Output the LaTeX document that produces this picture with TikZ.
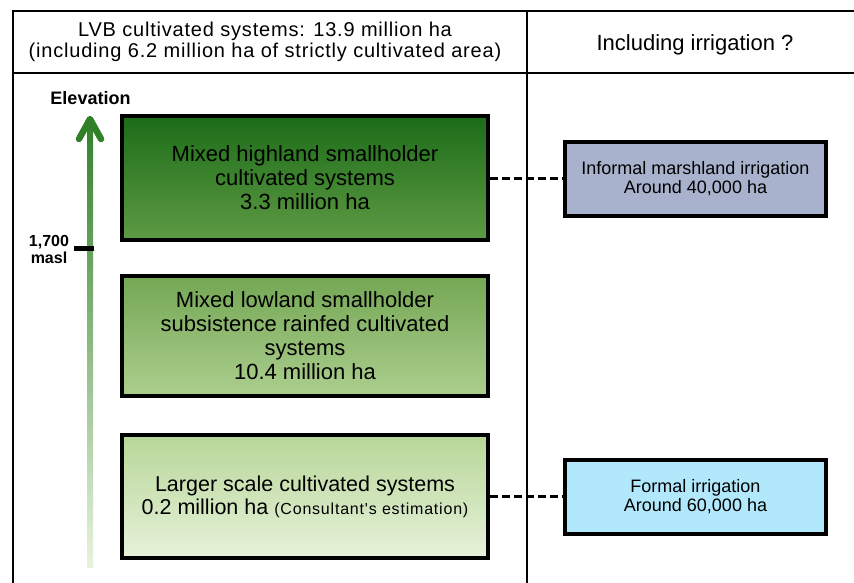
\documentclass[tikz,border=0pt]{standalone}
\usepackage{fontspec}
\setmainfont{Liberation Sans}[Ligatures=TeXOff]
\newfontfamily\hdrfont{Liberation Sans}[LetterSpace=4,Ligatures=TeXOff]
\definecolor{gAtop}{RGB}{28,108,24}
\definecolor{gAbot}{RGB}{94,154,68}
\definecolor{gBtop}{RGB}{116,167,84}
\definecolor{gBbot}{RGB}{172,206,142}
\definecolor{gCtop}{RGB}{184,214,152}
\definecolor{gCbot}{RGB}{230,242,218}
\definecolor{marshfill}{RGB}{168,178,204}
\definecolor{formalfill}{RGB}{178,232,252}
\definecolor{arrtop}{RGB}{48,128,40}
\definecolor{arrbot}{RGB}{232,243,222}
\begin{document}
\begin{tikzpicture}[x=1pt,y=-1pt,
  tbl/.style={line width=2.5pt},
  sysbox/.style={draw=black, line width=4pt, minimum width=366pt, minimum height=124pt,
    align=center, inner sep=0pt, font=\fontsize{22}{24}\selectfont},
  irrbox/.style={draw=black, line width=3.5pt, minimum width=261pt, minimum height=74pt,
    align=center, inner sep=0pt, font=\fontsize{18}{19}\selectfont},
  link/.style={line width=3pt, dash pattern=on 8pt off 4pt},
]
\useasboundingbox (0,0) rectangle (854,583);
% table
\draw[tbl] (13,583) -- (13,11) -- (854,11);
\draw[tbl] (13,73) -- (854,73);
\draw[tbl] (527,11) -- (527,583);
% headers
\node[font=\hdrfont\fontsize{20}{21}\selectfont, align=center, inner sep=0pt] (hdrleft) at (265,42)
  {LVB cultivated systems: 13.9 million ha\\(including 6.2 million ha of strictly cultivated area)};
\node[font=\fontsize{22}{24}\selectfont, inner sep=0pt] (hdrright) at (695,45) {Including irrigation ?};
% elevation arrow
\coordinate (arrowfoot) at (90,567);
\coordinate (arrowtip) at (90,119);
\shade[top color=arrtop, bottom color=arrbot] ([xshift=-3pt]arrowtip) rectangle ([xshift=3pt]arrowfoot);
\draw[arrtop, line width=6.5pt, line cap=round, line join=round] (79,139) -- (arrowtip) -- (101,139);
\node[font=\bfseries\fontsize{18}{18}\selectfont, inner sep=0pt] (elev) at (90.5,98.5) {Elevation};
\draw[line width=4.5pt] (74,248.5) -- (94,248.5);
\node[font=\bfseries\fontsize{16}{17}\selectfont, align=center, inner sep=0pt] (masl) at (49,249) {1,700\\masl};
% system boxes
\node[sysbox, top color=gAtop, bottom color=gAbot] (high) at (305,178)
  {Mixed highland smallholder\\cultivated systems\\3.3 million ha};
\node[sysbox, minimum height=120pt, top color=gBtop, bottom color=gBbot] (low) at (305,336)
  {Mixed lowland smallholder\\subsistence rainfed cultivated\\systems\\10.4 million ha};
\node[sysbox, minimum height=123pt, top color=gCtop, bottom color=gCbot, font=\fontsize{21.5}{23}\selectfont] (large) at (305,496.5)
  {Larger scale cultivated systems\\0.2 million ha {\fontsize{16}{16}\selectfont\addfontfeature{LetterSpace=5}(Consultant's estimation)}};
% irrigation boxes
\node[irrbox, fill=marshfill] (marsh) at (695.5,179) {Informal marshland irrigation\\Around 40,000 ha};
\node[irrbox, fill=formalfill] (formal) at (695.5,497) {Formal irrigation\\Around 60,000 ha};
% links
\draw[link] (high.east) -- (high.east -| marsh.west);
\draw[link] (large.east) -- (large.east -| formal.west);
\end{tikzpicture}
\end{document}
